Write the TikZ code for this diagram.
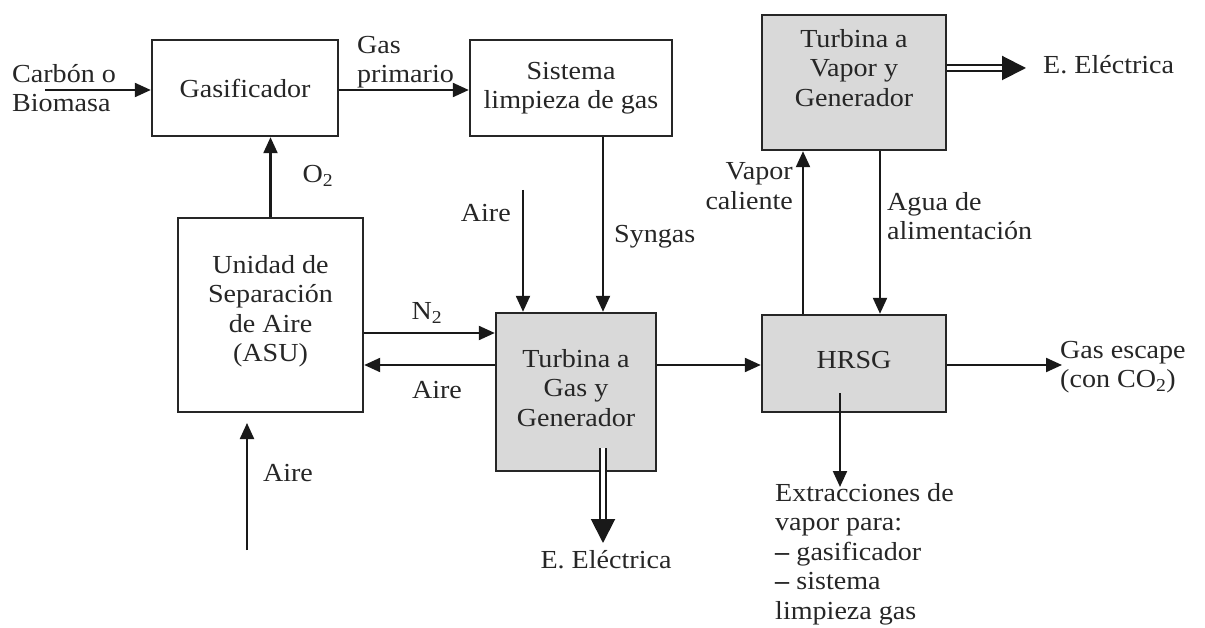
\documentclass[tikz,border=0pt]{standalone}
\usepackage{fontspec}
\setmainfont{Liberation Serif}[FakeStretch=1.08]
\usetikzlibrary{arrows.meta}
\begin{document}
\begin{tikzpicture}[x=1pt,y=-1pt,
  box/.style={draw=black!85, line width=2.4pt, inner sep=0pt},
  graybox/.style={box, fill=gray!30},
  txt/.style={font=\fontsize{26}{29.5}\selectfont, text=black!85, inner sep=0pt, align=center},
  flow/.style={draw=black!90, line width=2.2pt, -{Triangle[length=16pt,width=14pt]}},
  power/.style={draw=black!90, line width=2pt, double=white, double distance=3.5pt, -{Triangle[length=24pt,width=24pt]}}
]
\useasboundingbox (0,0) rectangle (1205,628);
% boxes
\node[box, minimum width=186pt, minimum height=96pt] (gas) at (245,88) {};
\node[txt] at (gas) {Gasificador};
\node[box, minimum width=202pt, minimum height=96pt] (sis) at (571,88) {};
\node[txt] at (sis) {Sistema\\limpieza de gas};
\node[graybox, minimum width=184pt, minimum height=135pt] (tv) at (854,82.5) {};
\node[txt] (tvt) at (854,68) {Turbina a\\Vapor y\\Generador};
\node[box, minimum width=185pt, minimum height=194pt] (asu) at (270.5,315) {};
\node[txt] (asut) at (270.5,311) {Unidad de\\Separación\\de Aire\\(ASU)};
\node[graybox, minimum width=160pt, minimum height=158pt] (tg) at (576,392) {};
\node[txt] (tgt) at (576,388) {Turbina a\\Gas y\\Generador};
\node[graybox, minimum width=184pt, minimum height=97pt] (hrsg) at (854,363.5) {};
\node[txt] at (854,360) {HRSG};
% free ends
\coordinate (cin) at (45,90);
\coordinate (airtop) at (523,190);
\coordinate (syn) at (603,0);
\coordinate (airbot) at (247,550);
\coordinate (gesc) at (1062,365);
\coordinate (vc) at (803,0);
\coordinate (ag) at (880,0);
\coordinate (ext0) at (840,393);
\coordinate (ext1) at (840,487);
\coordinate (ee1) at (1026,68);
\coordinate (ee2s) at (603,448);
\coordinate (ee2) at (603,543);
% connectors
\draw[flow] (cin) -- (cin -| gas.west);
\draw[flow] (gas.east |- cin) -- (sis.west |- cin);
\draw[flow] (asu.north) -- (asu.north |- gas.south);
\draw[flow] (airtop) -- (airtop |- tg.north);
\draw[flow] (syn |- sis.south) -- (syn |- tg.north);
\draw[flow] (asu.east |- 0,333) -- (tg.west |- 0,333);
\draw[flow] (tg.west |- 0,365) -- (asu.east |- 0,365);
\draw[flow] (airbot) -- (airbot |- 0,423);
\draw[flow] (tg.east |- gesc) -- (hrsg.west |- gesc);
\draw[flow] (hrsg.east |- gesc) -- (gesc);
\draw[flow] (vc |- hrsg.north) -- (vc |- tv.south);
\draw[flow] (ag |- tv.south) -- (ag |- hrsg.north);
\draw[flow] (ext0) -- (ext1);
\draw[power] (tv.east |- ee1) -- (ee1);
\draw[power] (ee2s) -- (ee2);
% labels
\node[txt, align=left, anchor=west] at (12,88) {Carbón o\\Biomasa};
\node[txt, align=left, anchor=west] at (357,62) {Gas\\primario};
\node[txt] at (318,176) {O\textsubscript{2}};
\node[txt, anchor=east] at (511,213) {Aire};
\node[txt, anchor=west] at (614,237) {Syngas};
\node[txt] at (427,313) {N\textsubscript{2}};
\node[txt] at (437,390) {Aire};
\node[txt] at (288,473) {Aire};
\node[txt] at (606,560) {E. Eléctrica};
\node[txt, align=right, anchor=east] at (793,186) {Vapor\\caliente};
\node[txt, align=left, anchor=west] at (887,216) {Agua de\\alimentación};
\node[txt, align=left, anchor=west] at (1060,367) {Gas escape\\(con CO\textsubscript{2})};
\node[txt, anchor=west] at (1043,65) {E. Eléctrica};
\node[txt, align=left, anchor=north west] at (775,483) {Extracciones de\\vapor para:\\\textbf{–} gasificador\\\textbf{–} sistema\\limpieza gas};
\end{tikzpicture}
\end{document}
